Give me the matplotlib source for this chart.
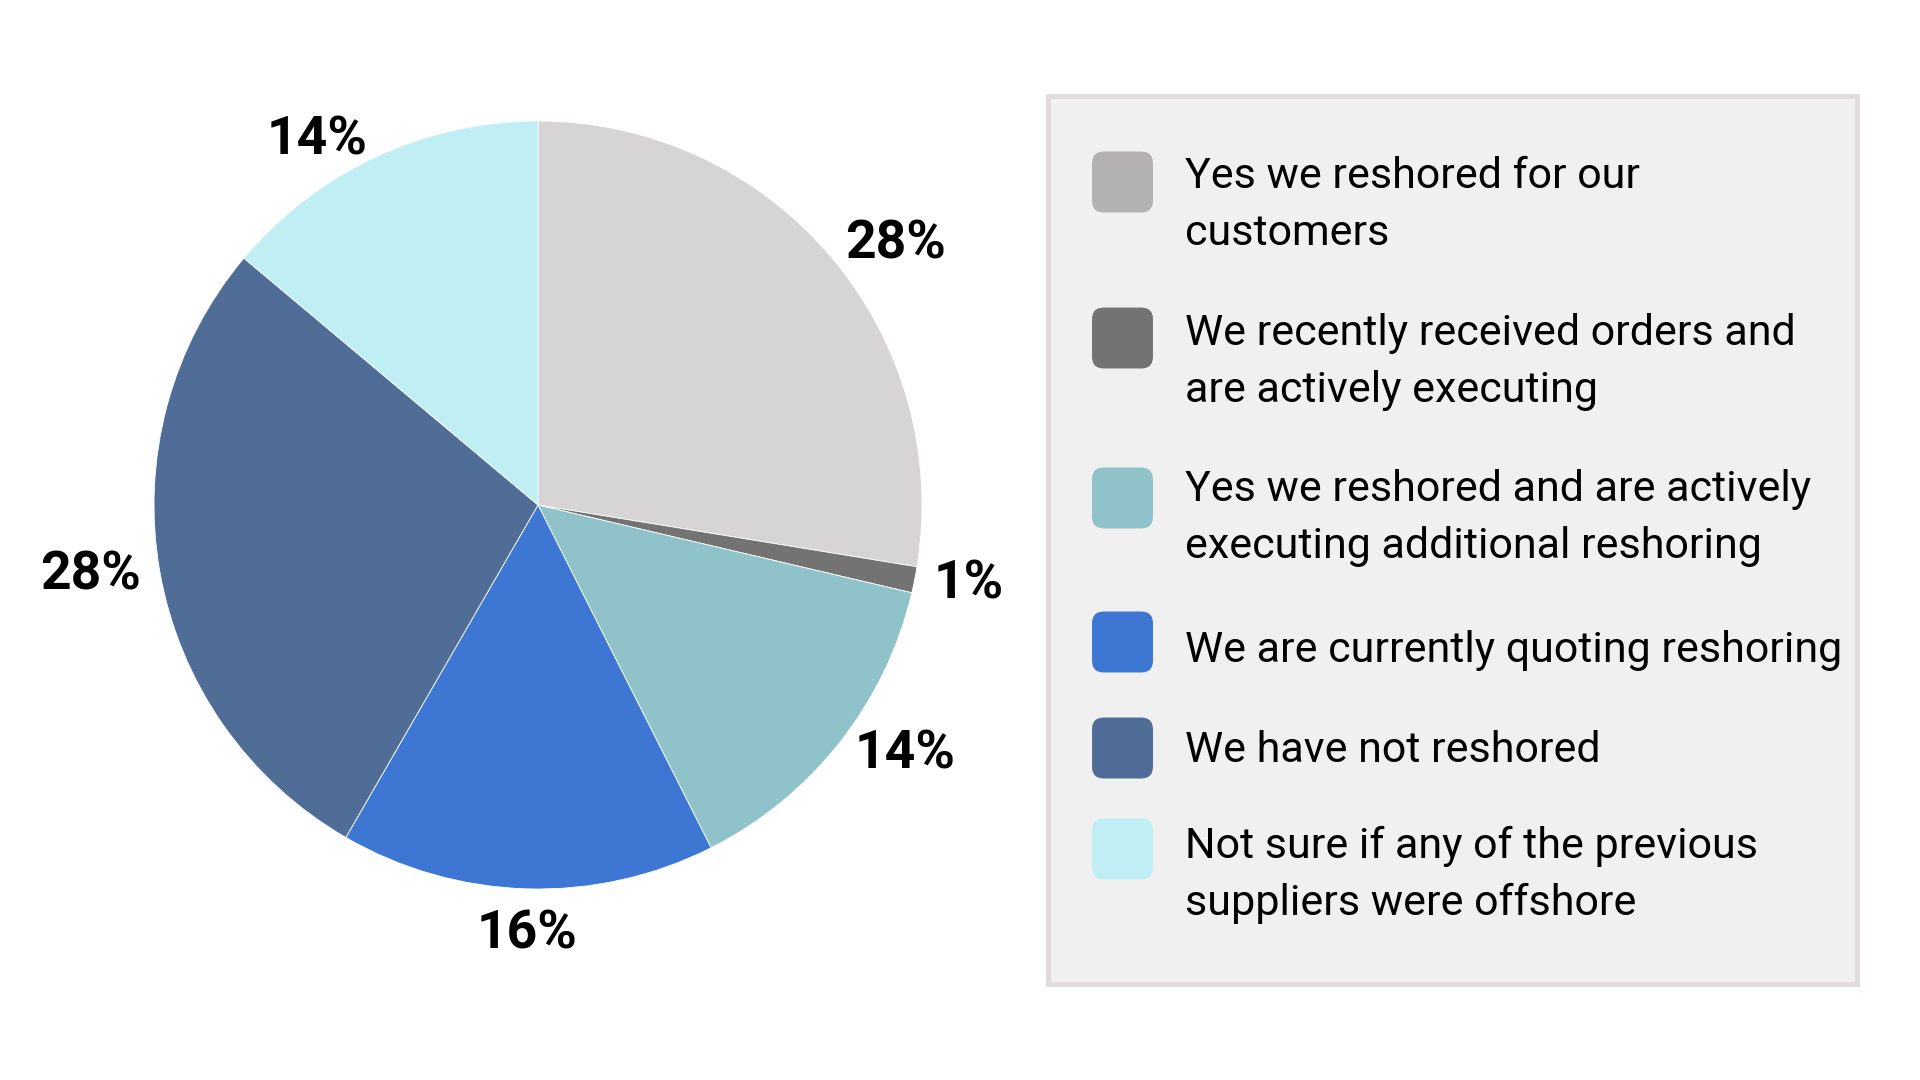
import matplotlib
matplotlib.use("Agg")
import matplotlib.pyplot as plt
from matplotlib.patches import FancyBboxPatch, Rectangle
import numpy as np

plt.rcParams['font.family'] = ['Roboto', 'DejaVu Sans']

# data
categories = [
    "Yes we reshored for our\ncustomers",
    "We recently received orders and\nare actively executing",
    "Yes we reshored and are actively\nexecuting additional reshoring",
    "We are currently quoting reshoring",
    "We have not reshored",
    "Not sure if any of the previous\nsuppliers were offshore",
]
shares = [27.6, 1.1, 13.9, 15.8, 27.8, 13.9]
pct_labels = ["28%", "1%", "14%", "16%", "28%", "14%"]

pie_colors = ["#d6d4d5", "#737373", "#90c2c9", "#3d76d3", "#4f6d97", "#bfeef5"]
swatch_colors = ["#b3b1b2", "#737373", "#90c2c9", "#3d76d3", "#4f6d97", "#bfeef5"]

W, H = 1920, 1080
fig = plt.figure(figsize=(19.2, 10.8), dpi=100)

def fx(px):
    return px / W

def fy(py):
    return 1 - py / H

# pie
cx, cy, r = 538, 505, 384
ax = fig.add_axes([fx(cx - r), fy(cy + r), 2 * r / W, 2 * r / H])
wedges, _ = ax.pie(shares, colors=pie_colors, startangle=90, counterclock=False,
                   radius=1, wedgeprops=dict(edgecolor="white", linewidth=0.6))
ax.set_xlim(-1, 1)
ax.set_ylim(-1, 1)
ax.set_aspect("equal")
ax.axis("off")

# outside labels: side labels hang off the rim, top/bottom ones sit above/below it
for w, lab in zip(wedges, pct_labels):
    mid = np.deg2rad((w.theta1 + w.theta2) / 2)
    c, s = np.cos(mid), np.sin(mid)
    if abs(c) < 0.3:
        ha = "center"
        va = "baseline" if s > 0 else "top"
    else:
        ha = "left" if c > 0 else "right"
        va = "center"
    ax.text(1.05 * c, 1.05 * s, lab, ha=ha, va=va,
            fontsize=38.5, fontweight="bold", color="black")

# legend panel
bx0, by0, bx1, by1 = 1045, 93, 1859, 986
fig.patches.append(Rectangle((fx(bx0 + 2.5), fy(by1 - 2.5)), (bx1 - bx0 - 5) / W, (by1 - by0 - 5) / H,
                             transform=fig.transFigure, facecolor="#f0f0f0",
                             edgecolor="#e0dcdc", linewidth=3.6))

swatch_y = [182, 338, 498, 642, 748, 849]
text_base = [188, 345, 501, 662, 762, 858]
sw = 61
line_gap = 57
for i, (lab, col) in enumerate(zip(categories, swatch_colors)):
    sy = swatch_y[i]
    fig.patches.append(FancyBboxPatch((fx(1092 + 10), fy(sy + sw / 2 - 10)),
                                      (sw - 20) / W, (sw - 20) / H,
                                      boxstyle="round,pad=0.0052,rounding_size=0.0062",
                                      transform=fig.transFigure, facecolor=col,
                                      edgecolor="none", mutation_aspect=W / H))
    for j, line in enumerate(lab.split("\n")):
        fig.text(fx(1185), fy(text_base[i] + j * line_gap), line, ha="left", va="baseline",
                 fontsize=31, color="black")

fig.savefig("out.png", dpi=100, facecolor="white")
